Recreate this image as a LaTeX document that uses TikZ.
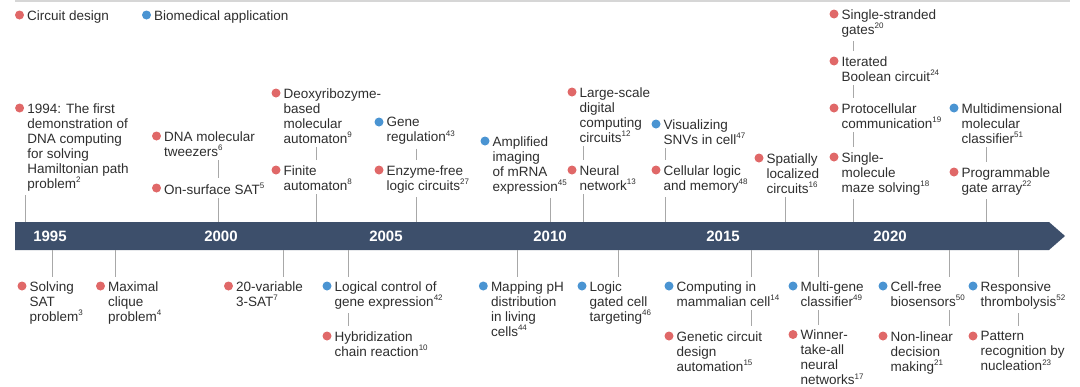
\documentclass[tikz,border=0pt]{standalone}
\usepackage{fontspec}
\setmainfont{Liberation Sans}
\usetikzlibrary{positioning}

\definecolor{barblue}{HTML}{3D4F6B}
\definecolor{cdred}{HTML}{E06868}
\definecolor{bmblue}{HTML}{4A94D2}
\definecolor{txtgray}{HTML}{2E2E2E}
\definecolor{tickgray}{HTML}{A8A8A8}
\definecolor{rulegray}{HTML}{D6D6D6}

\newcommand{\rf}[1]{\textsuperscript{\fontsize{8}{8}\selectfont #1}}

\tikzset{
  dotr/.style={circle, fill=cdred, inner sep=0pt, minimum size=9pt},
  dotb/.style={circle, fill=bmblue, inner sep=0pt, minimum size=9pt},
  item/.style={anchor=north west, xshift=2.8pt, yshift=4.9pt, inner sep=0pt, align=left, text=txtgray, font=\fontsize{13.5}{15}\selectfont},
  stem/.style={draw=tickgray, line width=0.9pt, shorten <=4pt},
  joint/.style={stem, shorten >=5pt},
  hang/.style={draw=tickgray, line width=0.9pt, shorten >=4pt},
  year/.style={text=white, font=\bfseries\fontsize{15}{15}\selectfont},
}

\begin{document}
\begin{tikzpicture}[x=1pt, y=-1pt]
    \useasboundingbox (0,0) rectangle (1080,386);
    \draw[rulegray, line width=1.5pt] (15,1) -- (1070,1);

    % legend
    \node[dotr] (lgc-d) at (19.5,15) {};
    \node[item] (lgc) at (lgc-d.east) {Circuit design};
    \node[dotb] (lgb-d) at (146.5,15) {};
    \node[item] (lgb) at (lgb-d.east) {Biomedical application};

    % time axis
    \fill[barblue] (15,222) -- (1049,222) -- (1065,236) -- (1049,250) -- (15,250) -- cycle;
    \node[year] (y95) at (50,236) {1995};
    \node[year] (y00) at (221,236) {2000};
    \node[year] (y05) at (386,236) {2005};
    \node[year] (y10) at (550,236) {2010};
    \node[year] (y15) at (723,236) {2015};
    \node[year] (y20) at (890,236) {2020};

    \coordinate (t-ham) at (25,222);
    \coordinate (t-sat) at (218,222);
    \coordinate (t-fin) at (316,222);
    \coordinate (t-enz) at (416,222);
    \coordinate (t-amp) at (550,222);
    \coordinate (t-neu) at (583,222);
    \coordinate (t-cel) at (665,222);
    \coordinate (t-spa) at (785,222);
    \coordinate (t-maz) at (853,222);
    \coordinate (t-pga) at (986,222);

    \coordinate (b-sol) at (52,250);
    \coordinate (b-cli) at (115,250);
    \coordinate (b-var) at (283,250);
    \coordinate (b-gen) at (348,250);
    \coordinate (b-ph) at (517,250);
    \coordinate (b-tar) at (618,250);
    \coordinate (b-mam) at (751,250);
    \coordinate (b-cls) at (818,250);
    \coordinate (b-bio) at (949,250);
    \coordinate (b-thr) at (1018,250);

    % above the axis
    \node[dotr] (ham-d) at (19.6,108) {};
    \node[item] (ham) at (ham-d.east) {1994: The first\\demonstration of\\DNA computing\\for solving\\Hamiltonian path\\problem\rf{2}};
    \node[dotr] (twz-d) at (156.5,136) {};
    \node[item] (twz) at (twz-d.east) {DNA molecular\\tweezers\rf{6}};
    \node[dotr] (sat-d) at (156.5,188) {};
    \node[item] (sat) at (sat-d.east) {On-surface SAT\rf{5}};
    \node[dotr] (dxz-d) at (276,93) {};
    \node[item] (dxz) at (dxz-d.east) {Deoxyribozyme-\\based\\molecular\\automaton\rf{9}};
    \node[dotr] (fin-d) at (276,170) {};
    \node[item] (fin) at (fin-d.east) {Finite\\automaton\rf{8}};
    \node[dotb] (grg-d) at (379,122) {};
    \node[item] (grg) at (grg-d.east) {Gene\\regulation\rf{43}};
    \node[dotr] (enz-d) at (379,170) {};
    \node[item] (enz) at (enz-d.east) {Enzyme-free\\logic circuits\rf{27}};
    \node[dotb] (amp-d) at (485,141) {};
    \node[item] (amp) at (amp-d.east) {Amplified\\imaging\\of mRNA\\expression\rf{45}};
    \node[dotr] (dig-d) at (572,92) {};
    \node[item] (dig) at (dig-d.east) {Large-scale\\digital\\computing\\circuits\rf{12}};
    \node[dotr] (neu-d) at (572,170) {};
    \node[item] (neu) at (neu-d.east) {Neural\\network\rf{13}};
    \node[dotb] (snv-d) at (656,124) {};
    \node[item] (snv) at (snv-d.east) {Visualizing\\SNVs in cell\rf{47}};
    \node[dotr] (cel-d) at (656,170) {};
    \node[item] (cel) at (cel-d.east) {Cellular logic\\and memory\rf{48}};
    \node[dotr] (spa-d) at (759,158) {};
    \node[item] (spa) at (spa-d.east) {Spatially\\localized\\circuits\rf{16}};
    \node[dotr] (ssg-d) at (834,14) {};
    \node[item] (ssg) at (ssg-d.east) {Single-stranded\\gates\rf{20}};
    \node[dotr] (itb-d) at (834,61) {};
    \node[item] (itb) at (itb-d.east) {Iterated\\Boolean circuit\rf{24}};
    \node[dotr] (pro-d) at (834,108) {};
    \node[item] (pro) at (pro-d.east) {Protocellular\\communication\rf{19}};
    \node[dotr] (maz-d) at (834,157) {};
    \node[item] (maz) at (maz-d.east) {Single-\\molecule\\maze solving\rf{18}};
    \node[dotb] (mdc-d) at (954,108) {};
    \node[item] (mdc) at (mdc-d.east) {Multidimensional\\molecular\\classifier\rf{51}};
    \node[dotr] (pga-d) at (954,172) {};
    \node[item] (pga) at (pga-d.east) {Programmable\\gate array\rf{22}};

    \draw[stem] (ham.south -| t-ham) -- (t-ham);
    \draw[joint] (twz.south -| t-sat) -- (sat.north -| t-sat);
    \draw[stem] (sat.south -| t-sat) -- (t-sat);
    \draw[joint] (dxz.south -| t-fin) -- (fin.north -| t-fin);
    \draw[stem] (fin.south -| t-fin) -- (t-fin);
    \draw[joint] (grg.south -| t-enz) -- (enz.north -| t-enz);
    \draw[stem] (enz.south -| t-enz) -- (t-enz);
    \draw[stem] (amp.south -| t-amp) -- (t-amp);
    \draw[joint] (dig.south -| t-neu) -- (neu.north -| t-neu);
    \draw[stem] (neu.south -| t-neu) -- (t-neu);
    \draw[joint] (snv.south -| t-cel) -- (cel.north -| t-cel);
    \draw[stem] (cel.south -| t-cel) -- (t-cel);
    \draw[stem] (spa.south -| t-spa) -- (t-spa);
    \draw[joint] (ssg.south -| t-maz) -- (itb.north -| t-maz);
    \draw[joint] (itb.south -| t-maz) -- (pro.north -| t-maz);
    \draw[joint] (pro.south -| t-maz) -- (maz.north -| t-maz);
    \draw[stem] (maz.south -| t-maz) -- (t-maz);
    \draw[joint] (mdc.south -| t-pga) -- (pga.north -| t-pga);
    \draw[stem] (pga.south -| t-pga) -- (t-pga);

    % below the axis
    \node[dotr] (sol-d) at (22,286) {};
    \node[item] (sol) at (sol-d.east) {Solving\\SAT\\problem\rf{3}};
    \node[dotr] (cli-d) at (100.5,286) {};
    \node[item] (cli) at (cli-d.east) {Maximal\\clique\\problem\rf{4}};
    \node[dotr] (var-d) at (228.5,286) {};
    \node[item] (var) at (var-d.east) {20-variable\\3-SAT\rf{7}};
    \node[dotb] (gen-d) at (327,286) {};
    \node[item] (gen) at (gen-d.east) {Logical control of\\gene expression\rf{42}};
    \node[dotr] (hcr-d) at (327,336) {};
    \node[item] (hcr) at (hcr-d.east) {Hybridization\\chain reaction\rf{10}};
    \node[dotb] (ph-d) at (483.3,286) {};
    \node[item] (ph) at (ph-d.east) {Mapping pH\\distribution\\in living\\cells\rf{44}};
    \node[dotb] (tar-d) at (582,286) {};
    \node[item] (tar) at (tar-d.east) {Logic\\gated cell\\targeting\rf{46}};
    \node[dotb] (mam-d) at (669,286) {};
    \node[item] (mam) at (mam-d.east) {Computing in\\mammalian cell\rf{14}};
    \node[dotr] (gca-d) at (669,336) {};
    \node[item] (gca) at (gca-d.east) {Genetic circuit\\design\\automation\rf{15}};
    \node[dotb] (cls-d) at (793,286) {};
    \node[item] (cls) at (cls-d.east) {Multi-gene\\classifier\rf{49}};
    \node[dotr] (wta-d) at (793,334.5) {};
    \node[item] (wta) at (wta-d.east) {Winner-\\take-all\\neural\\networks\rf{17}};
    \node[dotb] (bio-d) at (883,286) {};
    \node[item] (bio) at (bio-d.east) {Cell-free\\biosensors\rf{50}};
    \node[dotr] (dec-d) at (883,336) {};
    \node[item] (dec) at (dec-d.east) {Non-linear\\decision\\making\rf{21}};
    \node[dotb] (thr-d) at (973,286) {};
    \node[item] (thr) at (thr-d.east) {Responsive\\thrombolysis\rf{52}};
    \node[dotr] (nuc-d) at (973,336) {};
    \node[item] (nuc) at (nuc-d.east) {Pattern\\recognition by\\nucleation\rf{23}};

    \draw[hang] (b-sol) -- (sol.north -| b-sol);
    \draw[hang] (b-cli) -- (cli.north -| b-cli);
    \draw[hang] (b-var) -- (var.north -| b-var);
    \draw[hang] (b-gen) -- (gen.north -| b-gen);
    \draw[joint] (gen.south -| b-gen) -- (hcr.north -| b-gen);
    \draw[hang] (b-ph) -- (ph.north -| b-ph);
    \draw[hang] (b-tar) -- (tar.north -| b-tar);
    \draw[hang] (b-mam) -- (mam.north -| b-mam);
    \draw[joint] (mam.south -| b-mam) -- (gca.north -| b-mam);
    \draw[hang] (b-cls) -- (cls.north -| b-cls);
    \draw[joint] (cls.south -| b-cls) -- (wta.north -| b-cls);
    \draw[hang] (b-bio) -- (bio.north -| b-bio);
    \draw[joint] (bio.south -| b-bio) -- (dec.north -| b-bio);
    \draw[hang] (b-thr) -- (thr.north -| b-thr);
    \draw[joint] (thr.south -| b-thr) -- (nuc.north -| b-thr);
\end{tikzpicture}
\end{document}
